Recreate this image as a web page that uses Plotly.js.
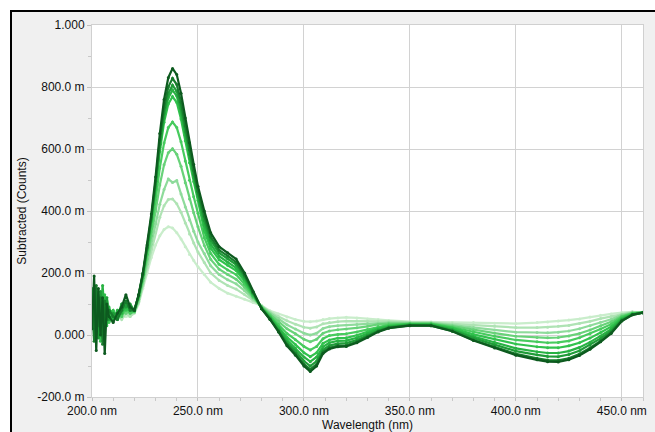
<!DOCTYPE html>
<html>
<head>
<meta charset="utf-8">
<script src="https://cdn.plot.ly/plotly-3.0.1.min.js"></script>
<style>
html,body{margin:0;padding:0;background:#fff;}
#chart{width:655px;height:432px;}
</style>
</head>
<body>
<div id="chart"></div>
<script>
// ---- data ----
const wavelength = [200,201,202,203,204,205,206,207,208,210,212,214,216,218,
  220,222,224,226,228,230,232,234,236,238,240,242,244,246,248,250,
  253,256,260,264,268,272,276,
  280,284,288,292,296,300,303,306,309,312,316,320,325,330,335,340,
  350,360,370,380,390,400,410,415,420,425,430,435,440,445,450,455,460];

const spectrum1 = [0.02,0.19,-0.05,0.15,0.00,0.12,-0.06,0.10,0.06,0.04,0.07,0.09,0.13,0.09,
  0.08,0.13,0.20,0.29,0.39,0.51,0.65,0.76,0.83,0.86,0.84,0.78,0.70,0.62,0.55,0.48,
  0.40,0.33,0.285,0.265,0.245,0.20,0.14,
  0.085,0.05,0.01,-0.035,-0.065,-0.10,-0.118,-0.10,-0.06,-0.045,-0.038,-0.037,-0.025,-0.008,0.01,0.022,
  0.03,0.03,0.012,-0.018,-0.042,-0.065,-0.080,-0.086,-0.087,-0.080,-0.066,-0.046,-0.022,0.005,0.045,0.065,0.072];
const spectrum2 = [0.10,-0.02,0.16,0.03,0.12,-0.03,0.11,0.05,0.08,0.06,0.05,0.08,0.11,0.08,
  0.079,0.128,0.197,0.284,0.381,0.496,0.630,0.734,0.800,0.828,0.808,0.751,0.674,0.598,0.531,0.464,
  0.384,0.317,0.274,0.255,0.235,0.193,0.137,
  0.085,0.051,0.013,-0.031,-0.060,-0.094,-0.111,-0.094,-0.055,-0.041,-0.034,-0.033,-0.022,-0.005,0.012,0.023,
  0.031,0.030,0.013,-0.016,-0.039,-0.061,-0.075,-0.081,-0.082,-0.075,-0.061,-0.042,-0.019,0.008,0.046,0.065,0.072];
const spectrum3 = [0.15,0.05,0.09,-0.01,0.14,0.08,0.02,0.12,0.05,0.07,0.06,0.10,0.09,0.10,
  0.079,0.127,0.195,0.281,0.375,0.487,0.615,0.716,0.779,0.806,0.786,0.731,0.656,0.582,0.517,0.453,
  0.369,0.306,0.265,0.246,0.227,0.187,0.135,
  0.086,0.053,0.016,-0.025,-0.052,-0.084,-0.100,-0.084,-0.048,-0.034,-0.028,-0.026,-0.016,-0.001,0.014,0.025,
  0.032,0.032,0.016,-0.010,-0.032,-0.052,-0.064,-0.069,-0.070,-0.063,-0.051,-0.032,-0.011,0.013,0.049,0.066,0.072];
const spectrum4 = [0.06,0.13,0.01,0.11,0.04,0.16,0.06,0.03,0.09,0.05,0.08,0.07,0.10,0.08,
  0.079,0.126,0.193,0.278,0.371,0.480,0.605,0.703,0.765,0.790,0.771,0.716,0.644,0.571,0.508,0.445,
  0.353,0.293,0.254,0.235,0.217,0.180,0.132,
  0.087,0.056,0.022,-0.016,-0.042,-0.071,-0.086,-0.071,-0.038,-0.025,-0.019,-0.018,-0.009,0.004,0.018,0.027,
  0.033,0.033,0.018,-0.005,-0.024,-0.043,-0.054,-0.058,-0.058,-0.052,-0.040,-0.023,-0.003,0.019,0.051,0.067,0.072];
const spectrum5 = [0.12,0.03,0.14,0.07,-0.02,0.10,0.13,0.05,0.07,0.08,0.05,0.09,0.08,0.09,
  0.078,0.125,0.191,0.274,0.365,0.471,0.592,0.686,0.745,0.769,0.750,0.697,0.627,0.556,0.495,0.434,
  0.336,0.280,0.243,0.225,0.208,0.174,0.129,
  0.088,0.058,0.027,-0.007,-0.031,-0.057,-0.070,-0.057,-0.027,-0.016,-0.010,-0.009,-0.001,0.010,0.022,0.029,
  0.035,0.034,0.022,0.002,-0.014,-0.029,-0.038,-0.041,-0.041,-0.035,-0.025,-0.010,0.008,0.027,0.054,0.068,0.072];
const spectrum6 = [0.08,0.15,0.04,0.12,0.09,0.02,0.10,0.08,0.04,0.06,0.07,0.06,0.09,0.07,
  0.077,0.120,0.183,0.260,0.343,0.436,0.539,0.619,0.669,0.687,0.669,0.623,0.561,0.499,0.446,0.393,
  0.314,0.263,0.228,0.210,0.195,0.164,0.125,
  0.089,0.062,0.035,0.005,-0.015,-0.037,-0.048,-0.037,-0.012,-0.002,0.002,0.004,0.010,0.018,0.027,0.033,
  0.036,0.036,0.025,0.010,-0.004,-0.016,-0.022,-0.025,-0.024,-0.019,-0.009,0.004,0.019,0.035,0.058,0.070,0.072];
const spectrum7 = [0.05,0.10,0.13,0.02,0.11,0.07,0.05,0.12,0.08,0.05,0.06,0.08,0.07,0.08,
  0.075,0.115,0.175,0.245,0.320,0.399,0.484,0.549,0.588,0.601,0.583,0.544,0.491,0.439,0.394,0.349,
  0.289,0.244,0.212,0.195,0.180,0.154,0.121,
  0.091,0.067,0.045,0.020,0.004,-0.014,-0.022,-0.014,0.006,0.013,0.017,0.019,0.023,0.028,0.034,0.037,
  0.038,0.037,0.029,0.017,0.006,-0.004,-0.008,-0.009,-0.008,-0.003,0.005,0.016,0.030,0.043,0.061,0.071,0.073];
const spectrum8 = [0.11,0.06,0.08,0.14,0.05,0.10,0.09,0.04,0.07,0.07,0.05,0.06,0.08,0.07,
  0.073,0.109,0.165,0.228,0.293,0.358,0.422,0.469,0.503,0.492,0.498,0.455,0.413,0.371,0.335,0.300,
  0.263,0.223,0.195,0.178,0.165,0.143,0.117,
  0.092,0.071,0.053,0.033,0.019,0.006,0.000,0.006,0.021,0.027,0.030,0.032,0.034,0.036,0.039,0.040,
  0.039,0.039,0.032,0.024,0.016,0.009,0.008,0.007,0.009,0.013,0.020,0.030,0.041,0.051,0.065,0.072,0.073];
const spectrum9 = [0.07,0.12,0.05,0.09,0.13,0.04,0.08,0.10,0.06,0.06,0.07,0.05,0.07,0.06,
  0.072,0.105,0.159,0.216,0.276,0.330,0.380,0.417,0.437,0.439,0.423,0.396,0.361,0.326,0.297,0.268,
  0.234,0.200,0.176,0.160,0.148,0.131,0.112,
  0.094,0.074,0.060,0.046,0.035,0.025,0.022,0.026,0.036,0.040,0.043,0.045,0.045,0.044,0.045,0.044,
  0.041,0.040,0.036,0.032,0.028,0.024,0.024,0.025,0.028,0.031,0.037,0.044,0.053,0.060,0.068,0.074,0.073];
const spectrum10 = [0.09,0.04,0.11,0.06,0.08,0.12,0.05,0.07,0.09,0.05,0.06,0.06,0.06,0.06,
  0.07,0.10,0.15,0.20,0.25,0.29,0.32,0.34,0.349,0.345,0.33,0.31,0.285,0.26,0.24,0.22,
  0.195,0.17,0.15,0.135,0.125,0.115,0.105,
  0.095,0.078,0.068,0.058,0.05,0.044,0.043,0.045,0.05,0.053,0.055,0.057,0.055,0.052,0.05,0.047,
  0.043,0.042,0.04,0.04,0.038,0.037,0.040,0.042,0.045,0.048,0.052,0.058,0.064,0.068,0.072,0.075,0.073];

const xTickVals = [200,250,300,350,400,450];
const xTickText = ['200.0 nm','250.0 nm','300.0 nm','350.0 nm','400.0 nm','450.0 nm'];
const yTickVals = [-0.2,0,0.2,0.4,0.6,0.8,1.0];
const yTickText = ['-200.0 m','0.000','200.0 m','400.0 m','600.0 m','800.0 m','1.000'];

// ---- styling ----
const seriesList = [spectrum1,spectrum2,spectrum3,spectrum4,spectrum5,spectrum6,spectrum7,spectrum8,spectrum9,spectrum10];
const colors = ['#0d5a1f','#177c2c','#1f9c38','#28b243','#31c24d','#47cb5e','#68d279','#8edb9b','#afe3b4','#c9edcb'];

const traces = [];
for (let i = seriesList.length - 1; i >= 0; i--) {
  traces.push({
    x: wavelength, y: seriesList[i], type: 'scatter', mode: 'lines+markers',
    line: {color: colors[i], width: 2.2},
    marker: {color: colors[i], size: 3},
    hoverinfo: 'skip', showlegend: false
  });
}

const W = 655, H = 432, ml = 92, mr = 12, mt = 25, mb = 35;
const pw = W - ml - mr, ph = H - mt - mb;
const px = v => (v - ml) / pw;          // pixel -> paper x
const py = v => (H - mb - v) / ph;      // pixel -> paper y

const font = {family: 'Liberation Sans, Arial, sans-serif', size: 12, color: '#111'};

const layout = {
  width: W, height: H,
  margin: {l: ml, r: mr, t: mt, b: mb, pad: 0},
  paper_bgcolor: '#f0f0f0',
  plot_bgcolor: '#ffffff',
  font: font,
  showlegend: false,
  hovermode: false,
  xaxis: {
    range: [200, 460], tickmode: 'array', tickvals: xTickVals, ticktext: xTickText,
    showgrid: true, gridcolor: '#d2d2d2', gridwidth: 1, zeroline: false,
    showline: true, linecolor: '#d0d0d0', linewidth: 1, mirror: true,
    ticks: 'outside', ticklen: 3, tickcolor: '#c0c0c0',
    minor: {dtick: 10, tick0: 200, ticks: 'outside', ticklen: 3, tickcolor: '#c8c8c8', showgrid: false},
    tickfont: font,
    title: {text: 'Wavelength (nm)', font: font, standoff: 3}
  },
  yaxis: {
    range: [-0.2, 1.0], tickmode: 'array', tickvals: yTickVals, ticktext: yTickText,
    showgrid: true, gridcolor: '#d2d2d2', gridwidth: 1, zeroline: false,
    showline: true, linecolor: '#d0d0d0', linewidth: 1, mirror: true,
    ticks: 'outside', ticklen: 4, tickcolor: '#c0c0c0',
    minor: {dtick: 0.1, tick0: 0, ticks: 'outside', ticklen: 3, tickcolor: '#c8c8c8', showgrid: false},
    tickfont: font,
    title: {text: 'Subtracted (Counts)', font: font, standoff: 8}
  },
  shapes: [
    {type: 'rect', xref: 'paper', yref: 'paper', x0: px(0), x1: px(W + 5), y0: py(10), y1: py(-5),
      fillcolor: '#ffffff', line: {width: 0}, layer: 'below'},
    {type: 'rect', xref: 'paper', yref: 'paper', x0: px(-5), x1: px(10), y0: py(H + 5), y1: py(-5),
      fillcolor: '#ffffff', line: {width: 0}, layer: 'below'},
    {type: 'line', xref: 'paper', yref: 'paper', x0: px(10), x1: px(W + 5), y0: py(11), y1: py(11),
      line: {color: '#000', width: 2}},
    {type: 'line', xref: 'paper', yref: 'paper', x0: px(11), x1: px(11), y0: py(10), y1: py(H + 5),
      line: {color: '#000', width: 2}}
  ]
};

Plotly.newPlot('chart', traces, layout, {staticPlot: true, displayModeBar: false});
</script>
</body>
</html>
